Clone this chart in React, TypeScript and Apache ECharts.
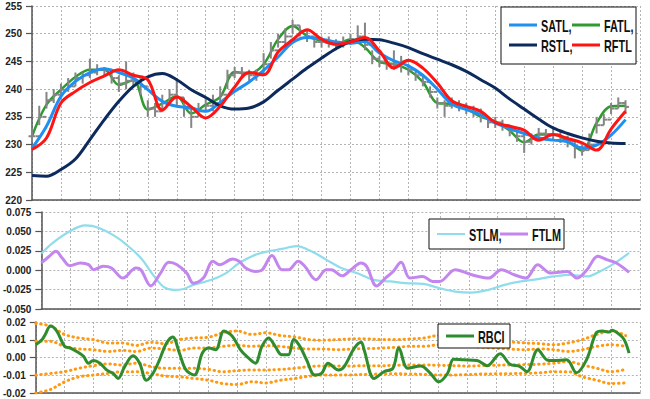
import React, { useEffect, useRef } from 'react';
import * as echarts from 'echarts';

// ---------- top panel (bar index 0..210, lines sampled every 5 bars) ----------
const lineBars = Array.from({ length: 42 }, (_, k) => k * 5);

const rstl = [224.4, 224.3, 225.5, 227.4, 230.9, 234.5, 237.8, 240.5, 242.2, 242.8, 241.7, 239.9, 238.5, 237.0, 236.4, 236.6, 237.7, 239.8, 241.8, 243.8, 245.6, 247.3, 248.6, 249.0, 248.9, 248.3, 247.5, 246.4, 245.4, 244.4, 243.2, 241.7, 240.2, 238.2, 236.4, 234.6, 233.0, 232.0, 231.2, 230.6, 230.3, 230.2];
const satl = [229.3, 233.3, 238.7, 241.4, 243.0, 243.7, 243.0, 242.0, 239.9, 237.8, 236.9, 236.6, 236.0, 237.6, 239.6, 241.3, 243.4, 245.8, 248.4, 249.3, 249.0, 248.5, 248.3, 248.6, 246.5, 245.1, 244.2, 242.5, 240.0, 237.3, 236.3, 235.4, 233.9, 232.9, 232.0, 231.2, 230.8, 230.5, 229.4, 229.9, 231.7, 234.5];
const rftl = [229.1, 231.2, 237.5, 239.6, 241.2, 242.4, 243.5, 242.5, 241.7, 236.2, 238.6, 236.8, 234.8, 236.9, 240.4, 243.0, 242.6, 246.7, 248.9, 250.7, 249.0, 248.1, 248.5, 249.3, 246.9, 243.8, 245.2, 243.8, 241.1, 237.9, 236.9, 236.0, 234.0, 233.3, 232.6, 230.8, 231.8, 231.1, 230.3, 229.0, 232.8, 236.0];
const fatl = [231.5, 237.2, 239.9, 242.2, 243.5, 243.5, 240.8, 241.6, 236.3, 237.4, 238.7, 235.6, 237.2, 238.6, 243.1, 242.8, 244.5, 249.0, 251.4, 249.6, 248.7, 248.1, 249.0, 247.5, 244.9, 244.5, 243.5, 241.3, 237.5, 237.3, 236.5, 235.0, 234.2, 232.5, 230.4, 231.8, 231.8, 230.6, 228.9, 233.9, 236.9, 237.0];

// price bars every 2.5 bars
const priceBars = Array.from({ length: 83 }, (_, j) => j * 2.5);
const priceClose = [231.5, 235, 238, 239, 239.9, 240.5, 242, 242.5, 243, 243.5, 243.5, 242, 241, 241.5, 241.5, 240.5, 236.5, 236, 237.5, 239, 238.5, 236.5, 235, 236, 237, 237.5, 239, 242.5, 243, 243, 242.5, 242.5, 244.5, 247, 248.5, 249.5, 251.5, 250.5, 249.5, 248.5, 248.5, 248.5, 248, 248.5, 249, 249.5, 248, 245.5, 245, 244.5, 244.5, 245, 243.5, 242.5, 241.3, 239.5, 237.5, 237, 237.5, 237, 236.5, 236, 235, 234, 234, 233.5, 232.5, 231.5, 230.5, 231, 232, 231.8, 231.8, 231.3, 230.6, 229.5, 229, 230, 233.5, 234.5, 236.5, 237.5, 236.8];
const priceHigh = [233, 237, 239.5, 240, 241, 242, 243, 243, 245.5, 244.5, 244, 243.5, 242.5, 245, 243, 242, 238, 237.5, 239, 240, 242, 238.5, 236.5, 237.5, 238.5, 239, 240.5, 243.5, 244, 244, 243.5, 243.5, 246.5, 248.5, 250, 251, 252.5, 251.5, 250.5, 249.5, 249.5, 249.5, 249, 249.5, 250, 251.5, 252, 247, 246, 245.5, 247, 246, 244.5, 243.5, 242.5, 240.5, 238.5, 238, 238.5, 238, 237.5, 237, 236.5, 235, 235, 234.5, 233.5, 232.5, 232, 232, 233, 232.8, 232.8, 232.3, 231.6, 230.5, 230, 232, 235, 235.5, 237.5, 238.5, 238];
const priceLow = [230.5, 233.5, 236.5, 237.5, 239, 239.5, 240.5, 241, 242, 242.5, 242.5, 241, 239.5, 240, 240.5, 239, 235, 235, 236, 237.5, 237, 235, 233, 235, 236, 236, 237, 240, 242, 242, 241.5, 241.5, 242.5, 245.5, 247.5, 248, 250, 249.5, 248.5, 247.5, 247.5, 247.5, 247, 247.5, 248, 248.5, 247, 244.5, 244, 243.5, 243.5, 243, 242.5, 241.5, 240.5, 238.5, 236.5, 235, 236.5, 236, 235.5, 235, 234, 233, 233, 232.5, 231.5, 230.5, 228.5, 230, 231, 230.8, 230.8, 230.3, 229.5, 227.5, 228, 229, 232, 233.5, 235.5, 236.5, 235.5];

// ---------- middle panel ----------
const stlmX = [0, 3.9, 10, 15.4, 20, 25.8, 29.8, 34.9, 39.6, 43, 46.4, 49.6, 53.3, 59.7, 64.8, 69.4, 75.2, 79.8, 84.4, 89.6, 94.7, 99.9, 105.2, 110.7, 116.6, 122.4, 127.9, 133.8, 139.7, 145.2, 151, 156.9, 162.4, 168.3, 174.1, 179.7, 185.5, 191.4, 195.9, 200.3, 206.2];
const stlmY = [0.0214, 0.035, 0.0503, 0.0577, 0.0547, 0.0439, 0.033, 0.0157, -0.008, -0.0219, -0.0253, -0.0245, -0.0189, -0.0124, -0.0037, 0.0093, 0.0201, 0.0244, 0.0274, 0.0309, 0.0244, 0.0136, 0.0028, -0.0037, -0.0124, -0.0145, -0.0167, -0.0176, -0.0232, -0.0275, -0.0288, -0.0253, -0.0189, -0.0145, -0.0115, -0.008, -0.0059, -0.008, -0.0016, 0.0071, 0.0222];
const ftlmX = [0, 2.8, 5.1, 7.3, 10, 13.7, 16.6, 18.3, 21.7, 24.6, 28.6, 33.2, 34.9, 38.4, 41.8, 44.7, 47.6, 51, 53.3, 56.8, 60.2, 62.5, 67.1, 69.4, 71.7, 75.2, 77.5, 80.9, 84.4, 86.7, 90.1, 92.4, 96.4, 99.9, 101.7, 105.5, 108.6, 112.1, 114.1, 117.6, 120.7, 123.4, 126.2, 129.3, 133.8, 137.2, 139.7, 145.2, 151, 156.9, 161.4, 165.9, 170, 174.1, 178.6, 184.5, 187.9, 191.4, 195.2, 198.3, 201.7, 206.2];
const ftlmY = [0.0093, 0.018, 0.0244, 0.0157, 0.0058, 0.0093, 0.0071, 0.0006, 0.005, 0.0028, -0.0102, 0.0028, 0.0006, -0.0202, -0.0037, 0.0101, 0.0071, -0.0037, -0.0167, -0.0102, 0.0114, 0.0071, 0.0144, 0.0114, 0.0028, -0.0016, 0.0006, 0.0188, 0.0006, 0.0006, 0.0114, 0.005, -0.0124, 0.0006, 0.0006, -0.0072, 0.0006, 0.0093, 0.005, -0.0202, -0.0102, -0.0016, 0.0101, -0.0102, -0.008, -0.0145, -0.0145, 0.0006, -0.0059, -0.0102, 0.0006, -0.0059, -0.0102, 0.0071, -0.0037, -0.0016, -0.0102, 0.0006, 0.0179, 0.0136, 0.0093, -0.0029];

// ---------- bottom panel ----------
const rbciX = [0, 2.2, 3.3, 5.1, 7.3, 10, 12, 14.2, 16.6, 18.3, 20, 22.3, 24.6, 26.9, 28.6, 30.9, 33.8, 36.1, 38.4, 40.7, 43, 45.3, 47.6, 49.9, 52.2, 55.1, 57.9, 60.2, 62.5, 65.4, 68.3, 71.1, 74, 76.3, 78.6, 80.9, 83.2, 85.5, 87.8, 89.6, 91.8, 94.1, 97, 99.3, 101.6, 105.2, 107.2, 110.7, 113.1, 114.1, 117.6, 121, 124.1, 126.2, 129.3, 133.8, 137.2, 140, 143.1, 145.2, 148.6, 153.4, 156.9, 161.4, 164.8, 168.3, 170.7, 174.5, 177.6, 179.7, 184.5, 187.9, 191.4, 194.8, 196.9, 199.3, 200.3, 202.8, 204.5, 206.2];
const rbciY = [0.0072, 0.0101, 0.013, 0.0177, 0.0149, 0.0063, 0.0053, 0.0034, 0.0006, -0.0032, -0.0017, -0.0032, -0.007, -0.009, -0.0118, -0.0051, 0.001, -0.0032, -0.0128, -0.009, -0.0013, 0.0078, 0.0116, 0.0025, -0.007, -0.0099, 0.0025, 0.0053, 0.0044, 0.0149, 0.012, 0.0044, -0.0004, -0.0032, 0.0063, 0.011, 0.0063, 0.0015, 0.0015, 0.0101, 0.0063, -0.0013, -0.0099, -0.009, -0.0032, -0.007, -0.0051, 0.0053, 0.0086, 0.0044, -0.0118, -0.008, -0.0061, 0.0053, -0.0061, -0.0048, -0.009, -0.0137, -0.009, -0.001, -0.0013, -0.0017, -0.0046, 0.0021, -0.0038, -0.0051, -0.008, 0.0044, -0.0013, -0.0017, -0.0013, -0.0086, -0.0013, 0.0139, 0.0149, 0.0143, 0.0154, 0.013, 0.0101, 0.0025];
const bandOuterUpper = [0.0192, 0.0177, 0.0130, 0.0110, 0.0101, 0.0082, 0.0082, 0.0068, 0.0086, 0.0078, 0.0101, 0.0110, 0.0114, 0.0139, 0.0149, 0.0130, 0.0139, 0.0124, 0.0116, 0.0101, 0.0097, 0.0101, 0.0105, 0.0105, 0.0101, 0.0101, 0.0105, 0.0110, 0.0124, 0.0125, 0.0118, 0.0105, 0.0095, 0.0088, 0.0082, 0.0078, 0.0072, 0.0082, 0.0101, 0.0130, 0.0149, 0.0124];
const bandInnerUpper = [0.0091, 0.0091, 0.0063, 0.0048, 0.0044, 0.0034, 0.0040, 0.0034, 0.0053, 0.0048, 0.0040, 0.0053, 0.0053, 0.0063, 0.0069, 0.0063, 0.0067, 0.0063, 0.0053, 0.0048, 0.0048, 0.0044, 0.0048, 0.0050, 0.0053, 0.0057, 0.0063, 0.0063, 0.0072, 0.0070, 0.0065, 0.0058, 0.0052, 0.0047, 0.0044, 0.0048, 0.0044, 0.0034, 0.0044, 0.0063, 0.0072, 0.0063];
const bandInnerLower = [-0.0099, -0.0090, -0.0080, -0.0061, -0.0046, -0.0036, -0.0042, -0.0032, -0.0051, -0.0061, -0.0061, -0.0061, -0.0067, -0.0080, -0.0074, -0.0070, -0.0070, -0.0067, -0.0061, -0.0051, -0.0048, -0.0048, -0.0048, -0.0046, -0.0046, -0.0044, -0.0042, -0.0042, -0.0044, -0.0046, -0.0048, -0.0046, -0.0044, -0.0042, -0.0040, -0.0038, -0.0032, -0.0023, -0.0042, -0.0061, -0.0080, -0.0067];
const bandOuterLower = [-0.0200, -0.0181, -0.0137, -0.0109, -0.0099, -0.0090, -0.0080, -0.0080, -0.0090, -0.0105, -0.0109, -0.0118, -0.0128, -0.0147, -0.0152, -0.0137, -0.0143, -0.0128, -0.0118, -0.0105, -0.0099, -0.0099, -0.0098, -0.0095, -0.0093, -0.0092, -0.0093, -0.0095, -0.0099, -0.0099, -0.0096, -0.0093, -0.0092, -0.0091, -0.0090, -0.0086, -0.0080, -0.0080, -0.0109, -0.0128, -0.0147, -0.0143];

const COLORS = {
  satl: '#1f8ff2',
  fatl: '#2f9a2f',
  rstl: '#0c2a5c',
  rftl: '#ff1414',
  stlm: '#8fdcec',
  ftlm: '#c386ef',
  rbci: '#2e8b2e',
  band: '#ff9a10',
  price: '#858585',
};

const pairs = (xs: number[], ys: number[]) => ys.map((y, i) => [xs[i], y]);

const LABEL_FONT = 'Liberation Sans Narrow, Arial Narrow, sans-serif';
const LEGEND_FONT = 'Liberation Sans Narrow, Arial Narrow, sans-serif';

function xAxisFor(gridIndex: number) {
  return {
    type: 'value',
    gridIndex,
    min: 0,
    max: 210,
    interval: 10,
    axisLabel: { show: false },
    axisTick: { show: false },
    axisLine: { show: true, onZero: false, lineStyle: { color: '#555', width: 1.5 } },
    splitLine: { show: true, lineStyle: { color: '#b4b4b4', type: [2, 2], width: 1 } },
  };
}

function yAxisFor(gridIndex: number, min: number, max: number, interval: number, fmt: (v: number) => string) {
  return {
    type: 'value',
    gridIndex,
    min,
    max,
    interval,
    axisLine: { show: true, lineStyle: { color: '#555', width: 1.5 } },
    axisTick: { show: true, length: 6, lineStyle: { color: '#555', width: 1.2 } },
    axisLabel: {
      margin: 10,
      color: '#222',
      fontFamily: LABEL_FONT,
      fontWeight: 'bold',
      fontSize: 10,
      formatter: fmt,
    },
    splitLine: { show: true, lineStyle: { color: '#b4b4b4', type: [2, 2], width: 1 } },
  };
}

function legendItem(x: number, y: number, color: string, width: number, text: string) {
  return [
    { type: 'line', z: 101, shape: { x1: x, y1: y, x2: x + 28, y2: y }, style: { stroke: color, lineWidth: width } },
    {
      type: 'text', z: 101, x: x + 32, y: y + 1, scaleX: 0.64,
      style: { text, fill: '#111', fontFamily: LEGEND_FONT, fontWeight: 'bold', fontSize: 17, verticalAlign: 'middle', align: 'left' },
    },
  ];
}

export default function App() {
  const ref = useRef<HTMLDivElement>(null);
  useEffect(() => {
    if (!ref.current) return;
    const chart = echarts.init(ref.current, null, { renderer: 'svg' });
    const fix = (v: number, d: number) => (Math.abs(v) < 1e-9 ? 0 : v).toFixed(d);

    const priceData = priceBars.map((x, i) => [x, priceLow[i], priceHigh[i], i > 0 ? priceClose[i - 1] : priceClose[i], priceClose[i]]);

    const lineS = (name: string, xi: number, data: any[], color: string, width: number, z = 3, extra: any = {}) => ({
      name, type: 'line', xAxisIndex: xi, yAxisIndex: xi, data,
      smooth: 0.35, showSymbol: false, symbol: 'none', z,
      lineStyle: { color, width, ...extra }, itemStyle: { color },
    });

    chart.setOption({
      animation: false,
      backgroundColor: '#fff',
      grid: [
        { left: 32, top: 6, width: 608, height: 194 },
        { left: 32, top: 212, width: 608, height: 97 },
        { left: 32, top: 322, width: 608, height: 71 },
      ],
      xAxis: [xAxisFor(0), xAxisFor(1), xAxisFor(2)],
      yAxis: [
        yAxisFor(0, 220, 255, 5, (v: number) => String(Math.round(v))),
        yAxisFor(1, -0.05, 0.075, 0.025, (v: number) => fix(v, 3)),
        yAxisFor(2, -0.02, 0.02, 0.01, (v: number) => fix(v, 2)),
      ],
      series: [
        lineS('FATL', 0, pairs(lineBars, fatl), COLORS.fatl, 2.5, 2),
        {
          name: 'Price', type: 'custom', xAxisIndex: 0, yAxisIndex: 0, z: 3,
          data: priceData,
          encode: { x: 0, y: [1, 2] },
          renderItem: (params: any, api: any) => {
            const x = api.value(0);
            const lo = api.coord([x, api.value(1)]);
            const hi = api.coord([x, api.value(2)]);
            const op = api.coord([x, api.value(3)]);
            const cl = api.coord([x, api.value(4)]);
            const style = { stroke: COLORS.price, lineWidth: 2 };
            return {
              type: 'group',
              children: [
                { type: 'line', shape: { x1: lo[0], y1: lo[1], x2: hi[0], y2: hi[1] }, style },
                { type: 'line', shape: { x1: op[0] - 3.5, y1: op[1], x2: op[0], y2: op[1] }, style },
                { type: 'line', shape: { x1: cl[0], y1: cl[1], x2: cl[0] + 3.5, y2: cl[1] }, style },
              ],
            };
          },
        },
        lineS('SATL', 0, pairs(lineBars, satl), COLORS.satl, 3, 4),
        lineS('RSTL', 0, pairs(lineBars, rstl), COLORS.rstl, 3, 5),
        lineS('RFTL', 0, pairs(lineBars, rftl), COLORS.rftl, 3, 6),
        lineS('STLM', 1, pairs(stlmX, stlmY), COLORS.stlm, 2.2, 3),
        lineS('FTLM', 1, pairs(ftlmX, ftlmY), COLORS.ftlm, 3, 4),
        lineS('Band1', 2, pairs(lineBars, bandOuterUpper), COLORS.band, 3, 3, { type: [0.5, 4.5], cap: 'round' }),
        lineS('Band2', 2, pairs(lineBars, bandInnerUpper), COLORS.band, 3, 3, { type: [0.5, 4.5], cap: 'round' }),
        lineS('Band3', 2, pairs(lineBars, bandInnerLower), COLORS.band, 3, 3, { type: [0.5, 4.5], cap: 'round' }),
        lineS('Band4', 2, pairs(lineBars, bandOuterLower), COLORS.band, 3, 3, { type: [0.5, 4.5], cap: 'round' }),
        lineS('RBCI', 2, pairs(rbciX, rbciY), COLORS.rbci, 3, 4),
      ],
      graphic: [
        { type: 'rect', z: 100, shape: { x: 501, y: 7, width: 135, height: 57 }, style: { fill: '#fff', stroke: '#111', lineWidth: 1 } },
        ...legendItem(509, 25, COLORS.satl, 3, 'SATL,'),
        ...legendItem(572, 25, COLORS.fatl, 3, 'FATL,'),
        ...legendItem(509, 45, COLORS.rstl, 3, 'RSTL,'),
        ...legendItem(572, 45, COLORS.rftl, 3, 'RFTL'),
        { type: 'rect', z: 100, shape: { x: 429, y: 219, width: 135, height: 30 }, style: { fill: '#fff', stroke: '#111', lineWidth: 1 } },
        ...legendItem(437, 234, COLORS.stlm, 2, 'STLM,'),
        ...legendItem(500, 234, COLORS.ftlm, 3, 'FTLM'),
        { type: 'rect', z: 100, shape: { x: 438, y: 324, width: 72, height: 24 }, style: { fill: '#fff', stroke: '#111', lineWidth: 1 } },
        ...legendItem(446, 336, COLORS.rbci, 3, 'RBCI'),
      ],
    });
    return () => chart.dispose();
  }, []);
  return <div ref={ref} style={{ position: 'absolute', left: 0, top: 0, width: 650, height: 399 }} />;
}
